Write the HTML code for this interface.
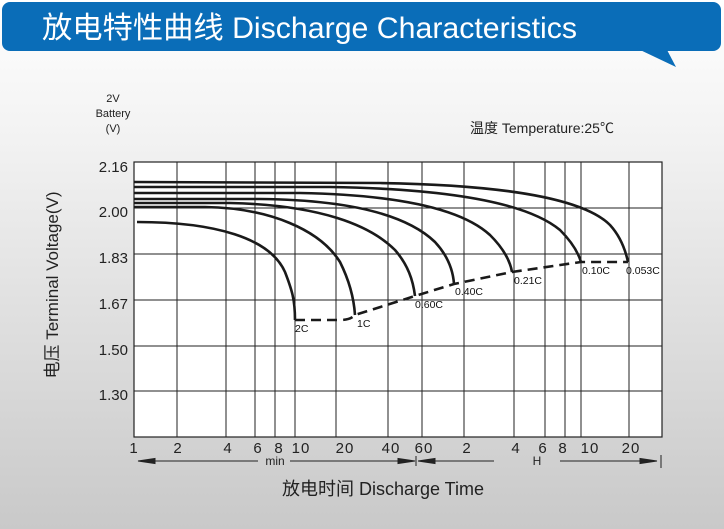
<!DOCTYPE html>
<html><head><meta charset="utf-8"><style>
html,body{margin:0;padding:0}
body{width:724px;height:529px;overflow:hidden;background:linear-gradient(#ffffff 0px,#f4f4f4 120px,#c9c9c9 529px);font-family:"Liberation Sans","Noto Sans CJK SC",sans-serif}
</style></head><body>
<svg width="724" height="529" viewBox="0 0 724 529" xmlns="http://www.w3.org/2000/svg" style="position:absolute;left:0;top:0;font-family:'Liberation Sans','Noto Sans CJK SC',sans-serif">
<rect x="2" y="2" width="719" height="49" rx="8" fill="#0a6db8"/>
<polygon points="636,48 666,48 676,67" fill="#0a6db8"/>
<text x="42" y="38" font-size="30" fill="#fff" textLength="535" lengthAdjust="spacingAndGlyphs">放电特性曲线 Discharge Characteristics</text>

<text x="113" y="102" font-size="11" text-anchor="middle" fill="#222">2V</text>
<text x="113" y="117" font-size="11" text-anchor="middle" fill="#222">Battery</text>
<text x="113" y="132" font-size="11" text-anchor="middle" fill="#222">(V)</text>
<text x="470" y="133" font-size="14" fill="#222">温度 Temperature:25℃</text>

<rect x="134" y="162" width="528" height="275" fill="#fff" stroke="#222" stroke-width="1.2"/>
<g stroke="#222" stroke-width="1">
<line x1="134" y1="208" x2="662" y2="208"/><line x1="134" y1="254" x2="662" y2="254"/>
<line x1="134" y1="300" x2="662" y2="300"/><line x1="134" y1="346" x2="662" y2="346"/>
<line x1="134" y1="391" x2="662" y2="391"/>
<line x1="177" y1="162" x2="177" y2="437"/><line x1="226" y1="162" x2="226" y2="437"/>
<line x1="255" y1="162" x2="255" y2="437"/><line x1="275" y1="162" x2="275" y2="437"/>
<line x1="295" y1="162" x2="295" y2="437"/><line x1="336" y1="162" x2="336" y2="437"/>
<line x1="388" y1="162" x2="388" y2="437"/><line x1="422" y1="162" x2="422" y2="437"/>
<line x1="464" y1="162" x2="464" y2="437"/><line x1="514" y1="162" x2="514" y2="437"/>
<line x1="545" y1="162" x2="545" y2="437"/><line x1="565" y1="162" x2="565" y2="437"/>
<line x1="581" y1="162" x2="581" y2="437"/><line x1="629" y1="162" x2="629" y2="437"/>
</g>
<g fill="none" stroke="#1a1a1a" stroke-width="2.6">
<path d="M137,222 C215,222 270,238 285,272 C292,290 295,300 295,320"/>
<path d="M134,207 L205,207 C270,208 320,230 340,262 C350,282 354,300 355,315"/>
<path d="M134,203 L230,203 C320,205 370,225 395,250 C408,265 413,280 415,296"/>
<path d="M134,199 L260,199 C360,200 410,218 435,242 C448,256 453,270 454,284"/>
<path d="M134,193 L300,193 C410,195 465,212 490,235 C503,248 510,260 512,272"/>
<path d="M134,187 L330,187 C460,189 530,205 560,230 C572,242 578,252 581,262"/>
<path d="M134,182 L380,183 C510,185 585,200 610,225 C620,236 625,248 628,262"/>
</g>
<path d="M295,320 L340,320 C348,320 352,318 355,315 L415,296 L454,284 L512,272 L581,262 L628,262" fill="none" stroke="#1a1a1a" stroke-width="2.6" stroke-dasharray="10,6"/>
<g font-size="10.5" fill="#111">
<text x="295" y="332">2C</text><text x="357" y="327">1C</text><text x="415" y="308">0.60C</text>
<text x="455" y="295">0.40C</text><text x="514" y="284">0.21C</text><text x="582" y="274">0.10C</text><text x="626" y="274">0.053C</text>
</g>
<g font-size="15" fill="#222" text-anchor="end">
<text x="128" y="172">2.16</text><text x="128" y="217">2.00</text><text x="128" y="263">1.83</text>
<text x="128" y="309">1.67</text><text x="128" y="355">1.50</text><text x="128" y="400">1.30</text>
</g>
<text transform="translate(58,285) rotate(-90)" font-size="17" text-anchor="middle" fill="#222">电压 Terminal Voltage(V)</text>
<g font-size="15" fill="#222" text-anchor="middle" letter-spacing="1">
<text x="134" y="453">1</text><text x="178" y="453">2</text><text x="228" y="453">4</text>
<text x="258" y="453">6</text><text x="279" y="453">8</text><text x="301" y="453">10</text>
<text x="345" y="453">20</text><text x="391" y="453">40</text><text x="424" y="453">60</text>
<text x="467" y="453">2</text><text x="516" y="453">4</text><text x="543" y="453">6</text>
<text x="563" y="453">8</text><text x="590" y="453">10</text><text x="631" y="453">20</text>
</g>
<g stroke="#222" stroke-width="1" fill="#222">
<line x1="145" y1="461" x2="258" y2="461"/><line x1="290" y1="461" x2="408" y2="461"/>
<polygon points="138,461 155,458.5 155,463.5"/><polygon points="415,461 398,458.5 398,463.5"/>
<line x1="416" y1="456" x2="416" y2="466"/>
<line x1="425" y1="461" x2="494" y2="461"/><line x1="560" y1="461" x2="650" y2="461"/>
<polygon points="418,461 435,458.5 435,463.5"/><polygon points="657,461 640,458.5 640,463.5"/>
<line x1="661" y1="455" x2="661" y2="468"/>
</g>
<text x="275" y="465" font-size="12" fill="#222" text-anchor="middle">min</text>
<text x="537" y="465" font-size="12" fill="#222" text-anchor="middle">H</text>
<text x="383" y="495" font-size="18" fill="#222" text-anchor="middle">放电时间 Discharge Time</text>
</svg>
</body></html>
